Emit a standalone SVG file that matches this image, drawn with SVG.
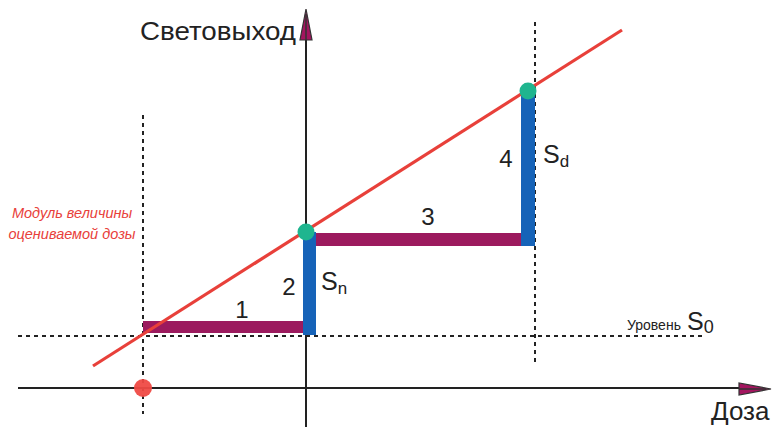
<svg xmlns="http://www.w3.org/2000/svg" width="776" height="427" viewBox="0 0 776 427">
<style>
.axis{stroke:#222;stroke-width:2;fill:none}
.dash{stroke:#222;stroke-width:2;stroke-dasharray:4,4;fill:none}
.arrow{fill:#a3155f;stroke:#333;stroke-width:1.2}
.bar{fill:#9c1a5e}
.blue{fill:#1663b8}
.lbl{font-family:"Liberation Sans",Arial,sans-serif;fill:#222}
.note{font-family:"Liberation Sans",Arial,sans-serif;font-style:italic;fill:#e8403a;font-size:14.5px}
</style>
<rect width="776" height="427" fill="#fff"/>
<g id="guides">
<line class="dash" x1="18" y1="336" x2="706" y2="336"/>
<line class="dash" x1="143" y1="115" x2="143" y2="414"/>
<line class="dash" x1="535" y1="22" x2="535" y2="366"/>
</g>
<g id="axes">
<line class="axis" x1="306" y1="30" x2="306" y2="427"/>
<line class="axis" x1="18" y1="388" x2="760" y2="388"/>
<polygon class="arrow" points="306,9 312,40 300,40"/>
<line x1="306" y1="14" x2="306" y2="40" stroke="#333" stroke-width="1.5"/>
<polygon class="arrow" points="771,389 739,383 739,395"/>
<line x1="739" y1="389" x2="766" y2="389" stroke="#333" stroke-width="1.5"/>
</g>
<g id="bars">
<rect class="bar" x="143" y="321" width="163" height="12"/>
<rect class="bar" x="306" y="233" width="221" height="13"/>
<rect class="blue" x="303" y="232" width="13" height="103"/>
<rect class="blue" x="521" y="91" width="14" height="155"/>
</g>
<g id="connectors">
<line x1="93" y1="366" x2="622" y2="30" stroke="#e8403a" stroke-width="3.2"/>
</g>
<g id="points">
<circle cx="306" cy="232" r="8.5" fill="#1fb58f"/>
<circle cx="528" cy="91" r="8.5" fill="#1fb58f"/>
<circle cx="143" cy="388" r="9" fill="#ef4a45" opacity="0.95"/>
</g>
<g id="labels">
<text class="lbl" x="140" y="40" font-size="26" textLength="156" lengthAdjust="spacingAndGlyphs">Световыход</text>
<text class="lbl" x="711" y="420" font-size="26">Доза</text>
<text class="note" x="72" y="218" text-anchor="middle">Модуль величины</text>
<text class="note" x="72" y="239" text-anchor="middle">оцениваемой дозы</text>
<text class="lbl" x="627" y="330" font-size="14">Уровень</text>
<text class="lbl" x="687" y="330" font-size="25">S<tspan font-size="18" dy="3">0</tspan></text>
<text class="lbl" x="242" y="318" font-size="24" text-anchor="middle">1</text>
<text class="lbl" x="289" y="295" font-size="24" text-anchor="middle">2</text>
<text class="lbl" x="321" y="290" font-size="25">S<tspan font-size="17" dy="4">n</tspan></text>
<text class="lbl" x="428" y="225" font-size="24" text-anchor="middle">3</text>
<text class="lbl" x="506" y="167" font-size="24" text-anchor="middle">4</text>
<text class="lbl" x="543" y="163" font-size="25">S<tspan font-size="17" dy="4">d</tspan></text>
</g>
</svg>
